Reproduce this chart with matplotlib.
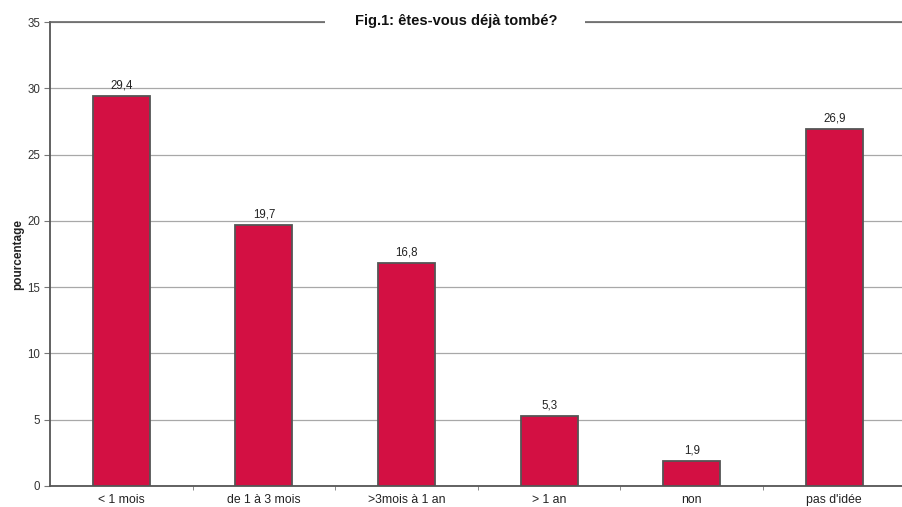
import matplotlib
matplotlib.use("Agg")
import matplotlib.pyplot as plt

categories = ["< 1 mois", "de 1 à 3 mois", ">3mois à 1 an", "> 1 an", "non", "pas d'idée"]
values = [29.4, 19.7, 16.8, 5.3, 1.9, 26.9]
value_labels = ["29,4", "19,7", "16,8", "5,3", "1,9", "26,9"]
y_ticks = [0, 5, 10, 15, 20, 25, 30, 35]

plt.rcParams["font.family"] = ["Liberation Sans", "DejaVu Sans"]

fig = plt.figure(figsize=(9.02, 5.07), dpi=100)
ax = fig.add_axes([50 / 902, 1 - 486 / 507, 855.6 / 902, 464 / 507])

bar_color = "#D31043"
edge_color = "#555555"
grid_color = "#A8A8A8"

x = list(range(len(categories)))
ax.bar(x, values, width=0.4, color=bar_color, edgecolor=edge_color,
       linewidth=1.3, zorder=3)

for xi, v, lab in zip(x, values, value_labels):
    ax.text(xi, v + 0.35, lab, ha="center", va="bottom", fontsize=8.3,
            color="#222222", zorder=4)

ax.set_xlim(-0.5, len(categories) - 0.5)
ax.set_ylim(0, 35)
ax.set_yticks(y_ticks)
ax.set_yticklabels([str(t) for t in y_ticks], fontsize=8.3, color="#333333")
ax.yaxis.grid(True, color=grid_color, linewidth=0.9, zorder=0)
ax.set_axisbelow(True)

# category labels below, small ticks at the category boundaries
ax.set_xticks(x)
ax.set_xticklabels(categories, fontsize=8.8, color="#222222")
ax.tick_params(axis="x", length=0, pad=6)
ax.set_xticks([i + 0.5 for i in x[:-1]], minor=True)
ax.tick_params(axis="x", which="minor", length=3, color="#777777")
ax.tick_params(axis="y", length=4, color="#777777", pad=3)

ax.set_ylabel("pourcentage", fontsize=8.5, fontweight="bold", color="#222222",
              labelpad=2)

for side in ["left", "bottom"]:
    ax.spines[side].set_color("#555555")
    ax.spines[side].set_linewidth(1.3)
ax.spines["top"].set_color("#666666")
ax.spines["top"].set_linewidth(1.2)
ax.spines["right"].set_visible(False)

fig.text(456 / 902, 1 - 21 / 507, "Fig.1: êtes-vous déjà tombé?", ha="center",
         va="center", fontsize=10.5, fontweight="bold", color="#111111",
         bbox=dict(facecolor="white", edgecolor="none", pad=4))
# widen the white gap in the top frame around the title
fig.patches.append(plt.Rectangle((325 / 902, 1 - 28 / 507), 260 / 902, 12 / 507,
                                 transform=fig.transFigure, facecolor="white",
                                 edgecolor="none", zorder=5))
for t in fig.texts:
    t.set_zorder(6)

fig.savefig("out.png", dpi=100)
